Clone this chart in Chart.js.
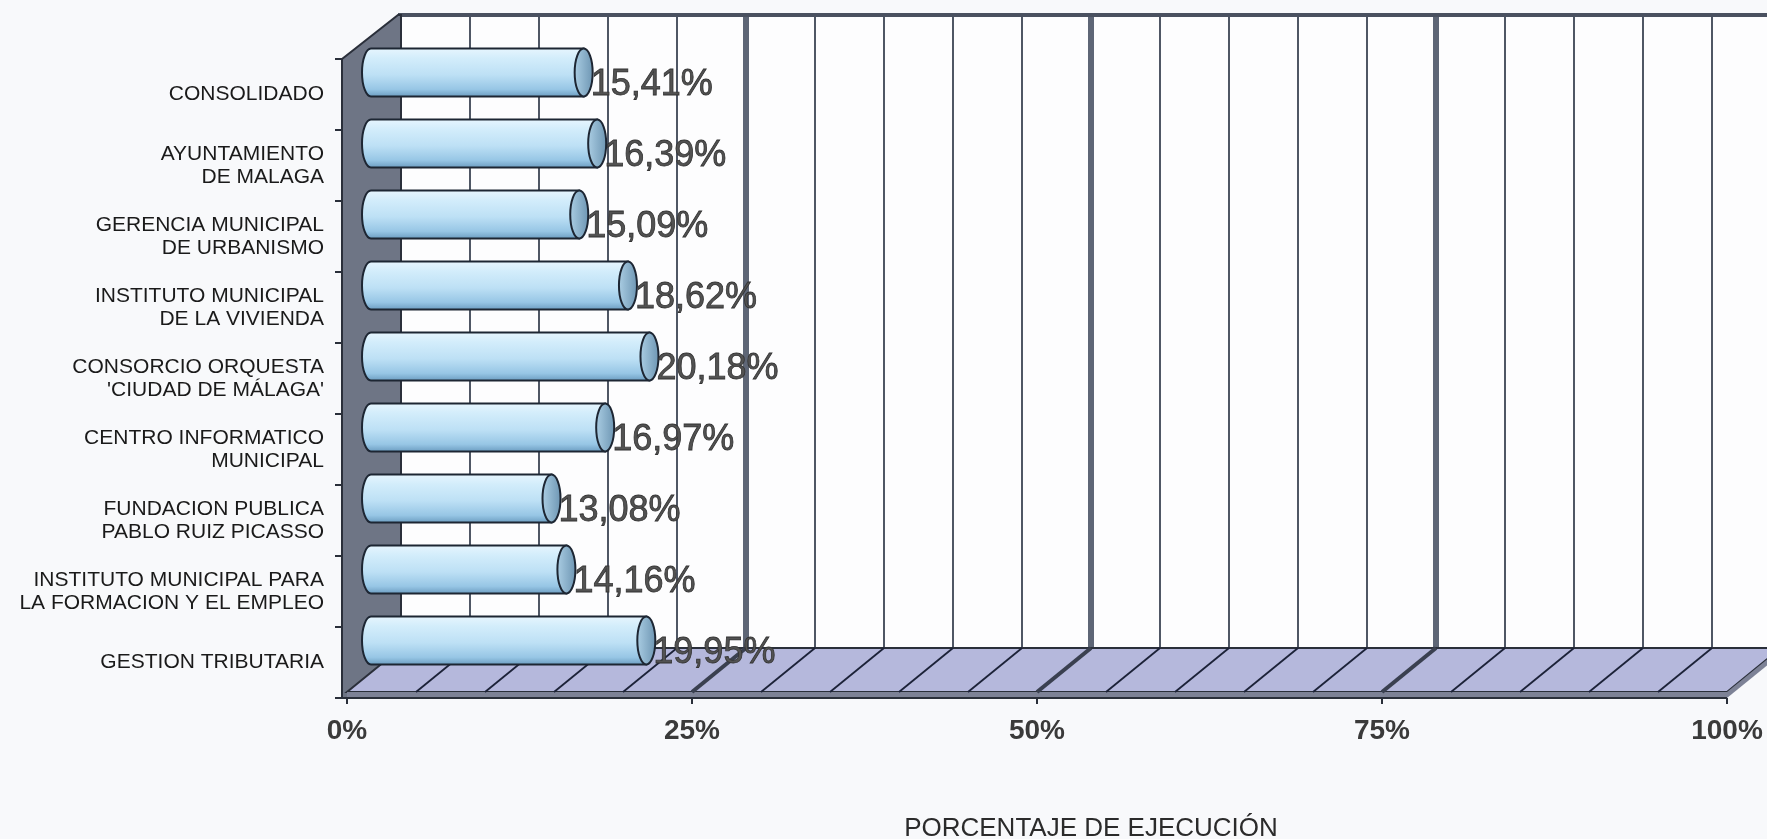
<!DOCTYPE html>
<html>
<head>
<meta charset="utf-8">
<script src="https://cdn.jsdelivr.net/npm/chart.js@4.4.1/dist/chart.umd.min.js"></script>
<style>
  html, body { margin: 0; padding: 0; background: #f8f9fb; overflow: hidden; }
  #contenedor { width: 1767px; height: 839px; position: relative; }
</style>
</head>
<body>
<div id="contenedor"><canvas id="grafico"></canvas></div>
<script>
const categorias = [
  ["CONSOLIDADO"],
  ["AYUNTAMIENTO", "DE MALAGA"],
  ["GERENCIA MUNICIPAL", "DE URBANISMO"],
  ["INSTITUTO MUNICIPAL", "DE LA VIVIENDA"],
  ["CONSORCIO ORQUESTA", "'CIUDAD DE MÁLAGA'"],
  ["CENTRO INFORMATICO", "MUNICIPAL"],
  ["FUNDACION PUBLICA", "PABLO RUIZ PICASSO"],
  ["INSTITUTO MUNICIPAL PARA", "LA FORMACION Y EL EMPLEO"],
  ["GESTION TRIBUTARIA"],
];
const porcentajes = [15.41, 16.39, 15.09, 18.62, 20.18, 16.97, 13.08, 14.16, 19.95];
const ticksX = [0, 25, 50, 75, 100];
const tituloX = "PORCENTAJE DE EJECUCIÓN";

// profundidad del efecto 3D (pared del fondo respecto al plano frontal)
const dx = 54, dy = -44;
const FUENTE = "'Liberation Sans', Arial, sans-serif";

function linea(ctx, x1, y1, x2, y2) {
  ctx.beginPath();
  ctx.moveTo(x1, y1);
  ctx.lineTo(x2, y2);
  ctx.stroke();
}

const efecto3d = {
  id: "efecto3d",
  beforeDatasetsDraw(chart) {
    const { ctx, chartArea: a, scales: { x } } = chart;
    ctx.save();

    // pared del fondo
    ctx.fillStyle = "#fdfdfe";
    ctx.fillRect(a.left + dx, a.top + dy, a.right - a.left + 20, a.bottom - a.top);

    // lineas de division cada 5%
    for (let v = 5; v < 100; v += 5) {
      const px = x.getPixelForValue(v) + dx;
      const mayor = v % 25 === 0;
      ctx.strokeStyle = mayor ? "#5e6676" : "#3c4454";
      ctx.lineWidth = mayor ? 6 : 1.8;
      linea(ctx, px, a.top + dy, px, a.bottom + dy);
    }
    ctx.strokeStyle = "#4a5160";
    ctx.lineWidth = 4;
    linea(ctx, a.left + dx - 3, a.top + dy, a.right + dx + 30, a.top + dy);

    // pared izquierda
    ctx.beginPath();
    ctx.moveTo(a.left - 5, a.top);
    ctx.lineTo(a.left + dx - 3, a.top + dy);
    ctx.lineTo(a.left + dx, a.top + dy);
    ctx.lineTo(a.left + dx, a.bottom + dy);
    ctx.lineTo(a.left, a.bottom);
    ctx.lineTo(a.left - 5, a.bottom);
    ctx.closePath();
    ctx.fillStyle = "#6e7585";
    ctx.fill();
    ctx.strokeStyle = "#2a2f3a";
    ctx.lineWidth = 2;
    ctx.stroke();

    // suelo
    const grosor = 6;
    const yf = a.bottom - grosor;
    ctx.beginPath();
    ctx.moveTo(a.left, yf);
    ctx.lineTo(a.right, yf);
    ctx.lineTo(a.right + dx, yf + dy);
    ctx.lineTo(a.left + dx, yf + dy);
    ctx.closePath();
    ctx.fillStyle = "#b5b8dc";
    ctx.fill();
    ctx.strokeStyle = "#2a2f3a";
    ctx.lineWidth = 2;
    ctx.stroke();
    ctx.fillStyle = "#7d8296";
    ctx.fillRect(a.left, yf, a.right - a.left, grosor);
    ctx.beginPath();
    ctx.moveTo(a.right, yf);
    ctx.lineTo(a.right + dx, yf + dy);
    ctx.lineTo(a.right + dx, yf + dy + grosor);
    ctx.lineTo(a.right, a.bottom);
    ctx.closePath();
    ctx.fill();
    ctx.strokeStyle = "#2a2f3a";
    linea(ctx, a.left, a.bottom, a.right, a.bottom);

    for (let v = 5; v < 100; v += 5) {
      const px = x.getPixelForValue(v);
      const mayor = v % 25 === 0;
      ctx.strokeStyle = mayor ? "#3a4050" : "#1c2238";
      ctx.lineWidth = mayor ? 4 : 1.8;
      linea(ctx, px, yf, px + dx, yf + dy);
    }

    ctx.restore();

    // las barras se dibujan a media profundidad
    ctx.save();
    ctx.translate(dx / 2 - 3, dy / 2);
  },
  afterDatasetsDraw(chart) {
    const { ctx } = chart;
    const meta = chart.getDatasetMeta(0);
    const rx = 9;

    meta.data.forEach((barra, i) => {
      const { x, y, base, height } = barra.getProps(["x", "y", "base", "height"], true);
      const ry = height / 2;

      const grad = ctx.createLinearGradient(0, y - ry, 0, y + ry);
      grad.addColorStop(0, "#e6f5fe");
      grad.addColorStop(0.2, "#d3edfb");
      grad.addColorStop(0.55, "#bde0f5");
      grad.addColorStop(0.85, "#97c6e5");
      grad.addColorStop(1, "#6d9ec2");

      ctx.beginPath();
      ctx.moveTo(base, y - ry);
      ctx.lineTo(x, y - ry);
      ctx.lineTo(x, y + ry);
      ctx.lineTo(base, y + ry);
      ctx.ellipse(base, y, rx, ry, 0, Math.PI / 2, Math.PI * 1.5);
      ctx.closePath();
      ctx.fillStyle = grad;
      ctx.fill();
      ctx.strokeStyle = "#1d2633";
      ctx.lineWidth = 2;
      ctx.stroke();

      const tapa = ctx.createLinearGradient(x - rx, 0, x + rx, 0);
      tapa.addColorStop(0, "#a9cce2");
      tapa.addColorStop(1, "#6f97b4");
      ctx.beginPath();
      ctx.ellipse(x, y, rx, ry, 0, 0, Math.PI * 2);
      ctx.fillStyle = tapa;
      ctx.fill();
      ctx.stroke();

      // etiqueta de valor
      const texto = porcentajes[i].toFixed(2).replace(".", ",") + "%";
      ctx.font = `36px ${FUENTE}`;
      ctx.textAlign = "left";
      ctx.textBaseline = "alphabetic";
      ctx.fillStyle = "#525252";
      ctx.fillText(texto, x + rx - 2, y + 22);
      ctx.strokeStyle = "#333333";
      ctx.lineWidth = 0.8;
      ctx.strokeText(texto, x + rx - 2, y + 22);
    });

    ctx.restore();
  },
  afterDraw(chart) {
    const { ctx, chartArea: a, scales: { x } } = chart;
    ctx.save();
    ctx.strokeStyle = "#2a2f3a";
    ctx.lineWidth = 2;
    // marcas del eje vertical
    for (let i = 0; i <= categorias.length; i++) {
      const py = a.top + i * (a.bottom - a.top) / categorias.length;
      linea(ctx, a.left - 12, py, a.left - 5, py);
    }
    // marcas del eje horizontal
    ticksX.forEach(v => {
      const px = x.getPixelForValue(v);
      linea(ctx, px, a.bottom, px, a.bottom + 6);
    });
    // titulo del eje
    ctx.font = `26px ${FUENTE}`;
    ctx.fillStyle = "#2b2b2b";
    ctx.textAlign = "center";
    ctx.textBaseline = "middle";
    ctx.fillText(tituloX, a.left + dx + (a.right - a.left) / 2, chart.height - 10);
    ctx.restore();
  },
};

const ctx = document.getElementById("grafico").getContext("2d");
new Chart(ctx, {
  type: "bar",
  data: {
    labels: categorias,
    datasets: [
      {
        label: "Porcentaje de ejecución",
        data: porcentajes,
        backgroundColor: "#bde0f5",
        borderWidth: 0,
        barThickness: 48,
        clip: false,
      },
    ],
  },
  options: {
    indexAxis: "y",
    responsive: true,
    maintainAspectRatio: false,
    animation: false,
    events: [],
    layout: { padding: { top: 59, right: 40, left: 0, bottom: 0 } },
    plugins: {
      legend: { display: false },
      tooltip: { enabled: false },
    },
    scales: {
      x: {
        min: 0,
        max: 100,
        afterBuildTicks: scale => {
          scale.ticks = ticksX.map(v => ({ value: v }));
        },
        afterFit: scale => {
          scale.height = 141;
          scale.paddingLeft = 0;
          scale.paddingRight = 0;
        },
        grid: { display: false, drawTicks: false },
        border: { display: false },
        ticks: {
          padding: 16,
          color: "#3a3a3a",
          font: { family: FUENTE, size: 28, weight: "bold" },
          callback: v => v + "%",
          maxRotation: 0,
          autoSkip: false,
        },
      },
      y: {
        afterFit: scale => {
          scale.width = 347;
        },
        grid: { display: false, drawTicks: false },
        border: { display: false },
        ticks: {
          padding: 23,
          color: "#1a1a1a",
          font: { family: FUENTE, size: 21, lineHeight: 1.1 },
          autoSkip: false,
        },
      },
    },
  },
  plugins: [efecto3d],
});
</script>
</body>
</html>
